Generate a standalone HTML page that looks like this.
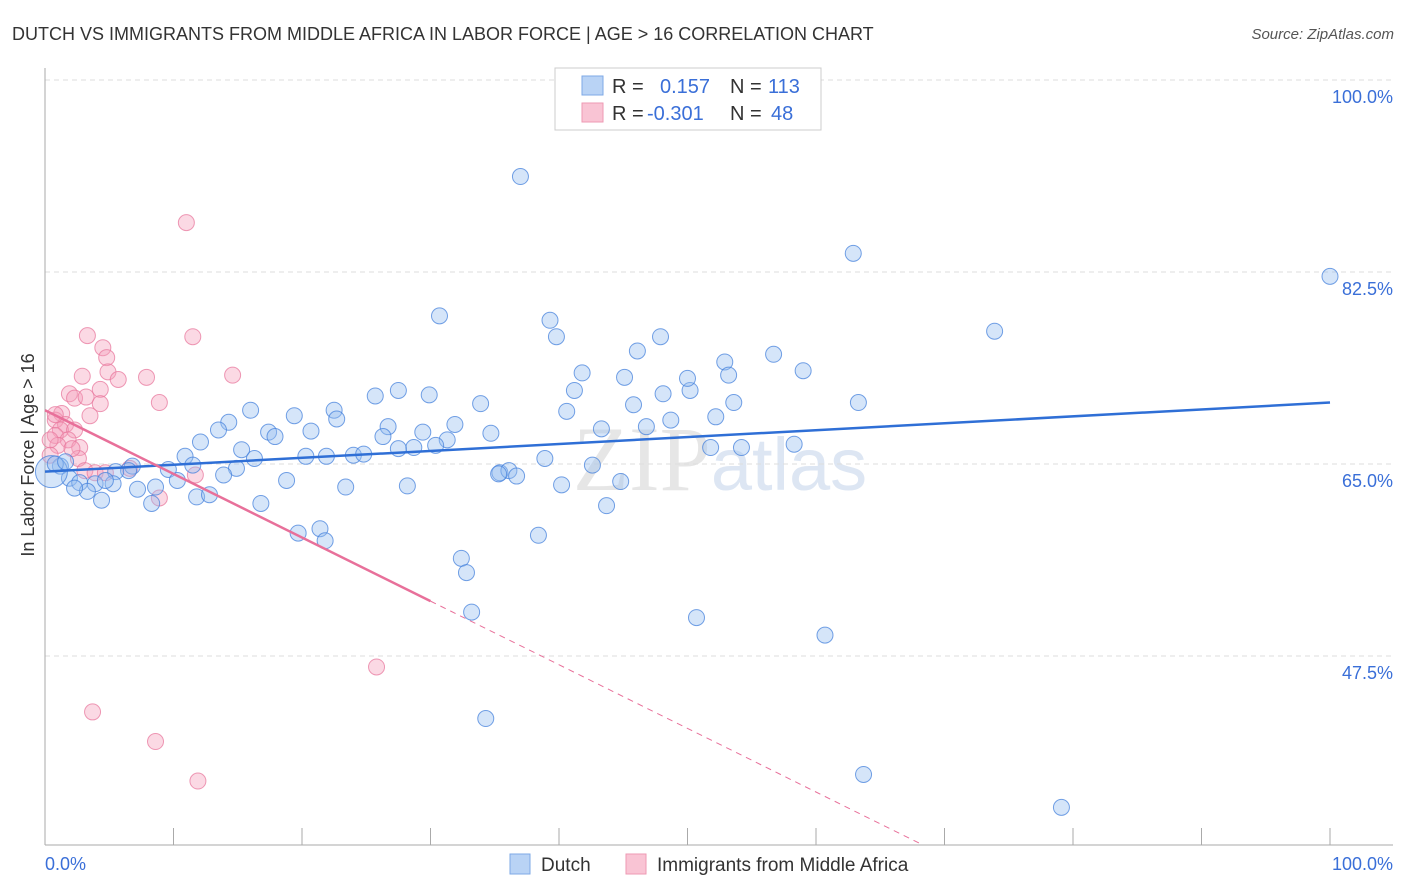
<!DOCTYPE html>
<html><head><meta charset="utf-8"><style>
body{margin:0;background:#fff;font-family:"Liberation Sans",sans-serif;}
svg{display:block}
</style></head><body>
<svg id="chart" width="1406" height="892" xmlns="http://www.w3.org/2000/svg">
<text x="12" y="40" font-size="18" fill="#333">DUTCH VS IMMIGRANTS FROM MIDDLE AFRICA IN LABOR FORCE | AGE &gt; 16 CORRELATION CHART</text>
<text x="1394" y="39" font-size="15" fill="#555" font-style="italic" text-anchor="end">Source: ZipAtlas.com</text>
<text x="720" y="490" font-size="92" fill="#e6e6e6" text-anchor="middle" font-family="Liberation Serif,serif">ZIP<tspan fill="#dde6f3" font-family="Liberation Sans,sans-serif" font-size="74">atlas</tspan></text>
<g id="grid"></g>
<g id="axes"></g>
<g id="marks"></g>
<g id="trends"></g>
<text transform="translate(34,455) rotate(-90)" font-size="18" fill="#333" text-anchor="middle">In Labor Force | Age &gt; 16</text>
<g>
<rect x="555" y="68" width="266" height="62" fill="#fff" stroke="#ccc"/>
<rect x="582" y="76" width="21" height="19" fill="#b9d3f5" stroke="#7ea8e6"/>
<rect x="582" y="103" width="21" height="19" fill="#f9c4d4" stroke="#ee9ab3"/>
<text x="612" y="93" font-size="20" fill="#333">R = <tspan x="660" fill="#3a6fd8">0.157</tspan><tspan x="730" fill="#333">N = </tspan><tspan x="768" fill="#3a6fd8">113</tspan></text>
<text x="612" y="120" font-size="20" fill="#333">R = <tspan x="647" fill="#3a6fd8">-0.301</tspan><tspan x="730" fill="#333">N = </tspan><tspan x="771" fill="#3a6fd8">48</tspan></text>
</g>
<g>
<rect x="510" y="854" width="20" height="20" fill="#b9d3f5" stroke="#7ea8e6"/>
<text x="541" y="871" font-size="19" fill="#333">Dutch</text>
<rect x="626" y="854" width="20" height="20" fill="#f9c4d4" stroke="#ee9ab3"/>
<text x="657" y="871" font-size="19" fill="#333">Immigrants from Middle Africa</text>
</g>
</svg>
<script>
const xTicks=[0,10,20,30,40,50,60,70,80,90,100];
const yTickVals=[100,82.5,65,47.5];
const yTickLabels=["100.0%","82.5%","65.0%","47.5%"];
const dutchX=[37.0,62.9,100,73.9,30.7,39.3,39.8,47.9,46.1,56.7,52.9,59.0,41.8,53.2,45.1,25.7,27.5,29.9,41.2,50.2,48.1,50.0,63.3,53.6,33.9,45.8,40.6,16.0,19.4,22.5,22.7,14.3,52.2,48.7,31.9,46.8,26.7,17.4,20.7,43.3,13.5,34.7,17.9,26.3,12.1,15.3,29.4,31.3,30.4,28.7,27.5,24.0,20.3,24.8,21.9,38.9,54.2,58.3,51.8,10.9,16.3,6.8,9.6,11.5,14.9,13.9,42.6,35.4,36.1,36.7,35.3,6.5,5.5,1.2,1.9,2.7,3.9,3.3,2.3,4.4,5.3,7.2,8.6,10.3,11.8,12.8,8.3,16.8,18.8,23.4,28.2,44.8,40.2,43.7,19.7,21.4,21.8,38.4,32.4,32.8,33.2,50.7,60.7,34.3,63.7,79.1,0.5,0.8,1.6,4.7];
const dutchY=[91.2,84.2,82.1,77.1,78.5,78.1,76.6,76.6,75.3,75.0,74.3,73.5,73.3,73.1,72.9,71.2,71.7,71.3,71.7,71.7,71.4,72.8,70.6,70.6,70.5,70.4,69.8,69.9,69.4,69.9,69.1,68.8,69.3,69.0,68.6,68.4,68.4,67.9,68.0,68.2,68.1,67.8,67.5,67.5,67.0,66.3,67.9,67.2,66.7,66.5,66.4,65.8,65.7,65.9,65.7,65.5,66.5,66.8,66.5,65.7,65.5,64.8,64.5,64.9,64.6,64.0,64.9,64.2,64.4,63.9,64.1,64.4,64.3,64.8,63.7,63.3,63.2,62.5,62.8,61.7,63.2,62.7,62.9,63.5,62.0,62.2,61.4,61.4,63.5,62.9,63.0,63.4,63.1,61.2,58.7,59.1,58.0,58.5,56.4,55.1,51.5,51.0,49.4,41.8,36.7,33.7,64.3,65.0,65.2,63.5];
const immX=[11.0,3.3,11.5,4.5,4.8,4.9,2.9,7.9,14.6,5.7,1.9,4.3,2.3,3.2,8.9,4.3,1.3,3.5,0.8,1.6,1.2,2.3,0.8,1.8,1.0,2.7,0.4,2.6,3.1,3.9,4.7,6.6,8.9,11.7,25.8,3.7,8.6,11.9,0.4,0.8,2.1];
const immY=[87.0,76.7,76.6,75.6,74.7,73.4,73.0,72.9,73.1,72.7,71.4,71.8,71.0,71.1,70.6,70.5,69.6,69.4,69.0,68.6,68.1,68.1,67.6,67.2,66.7,66.5,67.2,65.5,64.4,64.2,64.2,64.6,61.9,64.0,46.5,42.4,39.7,36.1,65.8,69.5,66.4];
const dutchTrend=[64.3,70.6];
const immTrend=[69.9,-0.58];
const NS="http://www.w3.org/2000/svg";
const X=v=>45+v*12.85, Y=v=>80+(100-v)*10.971;
function mk(tag,attrs,parent){const e=document.createElementNS(NS,tag);for(const k in attrs)e.setAttribute(k,attrs[k]);parent.appendChild(e);return e;}
const grid=document.getElementById('grid'),axes=document.getElementById('axes'),marks=document.getElementById('marks'),trends=document.getElementById('trends');
yTickVals.forEach((v,i)=>{
 const l=mk('line',{x1:45,x2:1393,y1:Y(v),y2:Y(v),stroke:'#ddd','stroke-dasharray':'5,4'},grid);
 
 
 const t=mk('text',{x:1393,y:Y(v)+23,'font-size':18,fill:'#3a6fd8','text-anchor':'end'},axes);
 t.textContent=yTickLabels[i];
 
 
});
const ya=mk('line',{x1:45,x2:45,y1:68,y2:845,stroke:'#aaa'},axes);


const xa=mk('line',{x1:45,x2:1393,y1:845,y2:845,stroke:'#aaa'},axes);


xTicks.forEach(v=>{
 const t=mk('line',{x1:X(v),x2:X(v),y1:828,y2:845,stroke:'#aaa'},axes);
 
 
});
const xl0=mk('text',{x:45,y:870,'font-size':18,fill:'#3a6fd8'},axes);xl0.textContent='0.0%';


const xl1=mk('text',{x:1393,y:870,'font-size':18,fill:'#3a6fd8','text-anchor':'end'},axes);xl1.textContent='100.0%';


immX.forEach((v,i)=>{
 const c=mk('circle',{cx:X(v),cy:Y(immY[i]),r:8,fill:'rgba(244,160,188,0.4)',stroke:'rgba(232,120,158,0.75)','stroke-width':1},marks);
 
 
});
dutchX.forEach((v,i)=>{
 const r=i===dutchX.length-4?16:8;
 const c=mk('circle',{cx:X(v),cy:Y(dutchY[i]),r:r,fill:'rgba(150,190,240,0.4)',stroke:'rgba(70,130,220,0.75)','stroke-width':1},marks);
 
 
});
const dl=mk('line',{x1:X(0),y1:Y(dutchTrend[0]),x2:X(100),y2:Y(dutchTrend[1]),stroke:'#2f6fd6','stroke-width':2.5},trends);


const ymin=100-(845-80)/10.971;
const xEnd=(ymin-immTrend[0])/immTrend[1];
const il=mk('line',{x1:X(0),y1:Y(immTrend[0]),x2:X(30),y2:Y(immTrend[0]+immTrend[1]*30),stroke:'#e8709a','stroke-width':2.5},trends);


const id=mk('line',{x1:X(30),y1:Y(immTrend[0]+immTrend[1]*30),x2:X(xEnd),y2:Y(ymin),stroke:'#e8709a','stroke-width':1,'stroke-dasharray':'6,5'},trends);


</script>
</body></html>
